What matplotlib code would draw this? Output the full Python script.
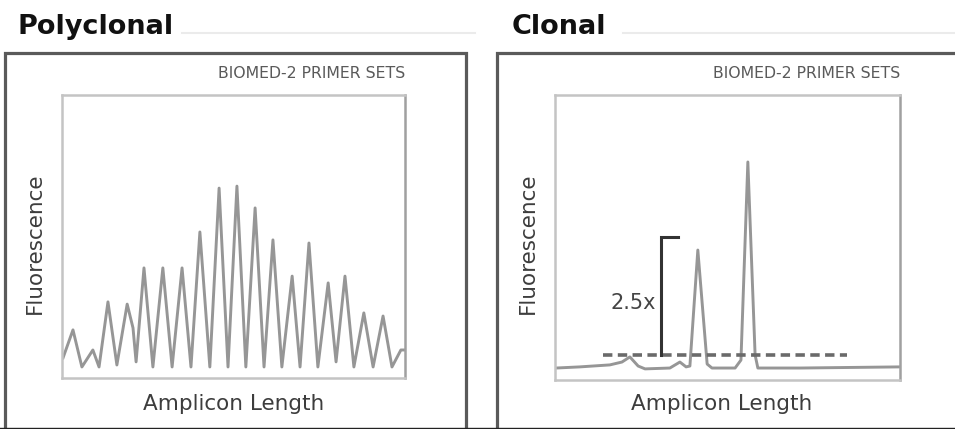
import matplotlib
matplotlib.use("Agg")
import matplotlib.pyplot as plt

# ---------------- data (arbitrary units, 0-100) ----------------
panel_titles = ["Polyclonal", "Clonal"]
primer_label = "BIOMED-2 PRIMER SETS"
x_label = "Amplicon Length"
y_label = "Fluorescence"

poly_x = [0.3, 3.2, 5.8, 9.0, 10.8, 13.4, 16.0, 19.0, 20.7, 21.6, 23.9, 26.5,
          29.4, 32.1, 35.0, 37.6, 40.2, 43.1, 45.8, 48.4, 51.0, 53.6, 56.3,
          58.9, 61.5, 64.1, 67.1, 69.4, 72.0, 74.6, 77.6, 79.9, 82.5, 85.1,
          88.0, 90.7, 93.6, 96.2, 98.8, 99.7]
poly_y = [7.1, 17.0, 3.9, 9.9, 3.9, 26.9, 4.6, 26.1, 17.7, 5.7, 38.9, 3.9,
          38.9, 3.9, 38.9, 3.9, 51.6, 3.9, 67.1, 3.9, 67.8, 3.9, 60.1,
          3.9, 48.8, 3.9, 36.0, 3.9, 47.7, 3.9, 33.6, 5.7, 36.0, 3.9,
          23.0, 3.9, 21.9, 3.9, 9.9, 9.9]

clonal_x = [0.3, 7.2, 15.9, 19.4, 21.7, 24.1, 26.1, 33.3, 36.2, 38.0, 39.1,
            41.4, 44.1, 45.5, 52.2, 53.9, 55.9, 58.0, 58.8, 71.0, 100.0]
clonal_y = [4.2, 4.6, 5.3, 6.3, 8.1, 4.9, 3.9, 4.2, 6.3, 4.6, 4.9,
            45.6, 5.6, 4.2, 4.2, 7.0, 76.5, 8.8, 4.2, 4.2, 4.6]

threshold_y = 8.8
threshold_x = [13.9, 84.6]
bracket_x = [35.7, 30.7, 30.7]
bracket_y = [50.2, 50.2, 8.8]
fold_label = "2.5x"
fold_pos = (29.3, 27.0)

# ---------------- figure ----------------
W, H, DPI = 955, 429, 100
fig = plt.figure(figsize=(W / DPI, H / DPI), dpi=DPI)
fig.patch.set_facecolor("white")

# overlay axes in pixel coordinates for decorations
ov = fig.add_axes([0, 0, 1, 1])
ov.set_xlim(0, W)
ov.set_ylim(H, 0)
ov.axis("off")

def fx(px):
    return px / W

def fy(py):
    return 1 - py / H

# outer boxes
box_col = "#5a5a5a"
ov.plot([5, 5, 466, 466], [440, 53, 53, 440], color=box_col, lw=2.3,
        solid_joinstyle="miter")
ov.plot([497, 497, 960], [440, 53, 53], color=box_col, lw=2.3,
        solid_joinstyle="miter")
ov.plot([0, W], [428.2, 428.2], color="#222222", lw=1.0)

# faint lines next to the titles
ov.plot([182, 475], [33, 33], color="#ebebeb", lw=1.5)
ov.plot([623, 955], [33, 33], color="#ebebeb", lw=1.5)

# titles
ov.text(17, 34, panel_titles[0], fontsize=19.5, fontweight="bold",
        color="#111111", ha="left", va="baseline")
ov.text(512, 34, panel_titles[1], fontsize=19.5, fontweight="bold",
        color="#111111", ha="left", va="baseline")

# inner axes
frames = [(62, 405, 95, 378), (555, 900, 95, 380)]
series = [(poly_x, poly_y), (clonal_x, clonal_y)]
ylab_x = [35, 528]
xlab_x = [234, 722]

for i, ((x0, x1, y0, y1), (sx, sy)) in enumerate(zip(frames, series)):
    ax = fig.add_axes([fx(x0), fy(y1), (x1 - x0) / W, (y1 - y0) / H])
    ax.set_xlim(0, 100)
    ax.set_ylim(0, 100)
    ax.set_xticks([])
    ax.set_yticks([])
    for side, sp in ax.spines.items():
        sp.set_color("#c4c4c4")
        sp.set_linewidth(1.8)
    ax.spines["right"].set_color("#a0a0a0")
    ax.plot(sx, sy, color="#969696", lw=2.1, solid_joinstyle="round")

    if i == 1:
        ax.plot(threshold_x, [threshold_y, threshold_y], color="#6a6a6a",
                lw=2.6, dashes=(2.6, 1.5))
        ax.plot(bracket_x, bracket_y, color="#333333", lw=2.2,
                solid_joinstyle="miter")
        ax.text(fold_pos[0], fold_pos[1], fold_label, fontsize=15,
                color="#444444", ha="right", va="center")

    # primer label
    ov.text(x1, 73, primer_label, fontsize=11.3, color="#5a5a5a",
            ha="right", va="center")
    # axis labels
    ov.text(ylab_x[i], 243, y_label, fontsize=15.5, color="#3d3d3d",
            rotation=90, ha="center", va="center")
    ov.text(xlab_x[i], 404, x_label, fontsize=15.5, color="#3d3d3d",
            ha="center", va="center")

fig.savefig("out.png", dpi=DPI, facecolor="white")
